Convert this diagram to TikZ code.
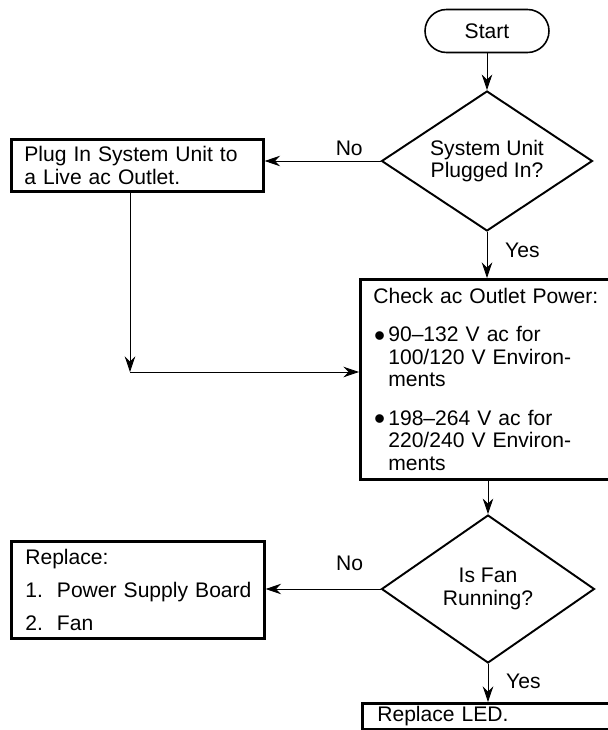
\documentclass[tikz,border=0pt]{standalone}
\usepackage{fontspec}
\setmainfont{Liberation Sans}
\usetikzlibrary{positioning,arrows.meta,shapes.geometric}
\newcommand{\fl}{\fontsize{12}{12.8}\selectfont}
\newcommand{\itm}{\makebox[3mm][l]{\hspace{0.4pt}\raisebox{-2.6pt}{\fontsize{18}{12}\selectfont\textbullet}}}
\newcommand{\ind}{\hspace*{3mm}}
\tikzset{
  box/.style ={draw, line width=1.5pt, align=left, anchor=north west, inner xsep=2.6mm, inner ysep=0pt, font=\fl},
  term/.style={draw, line width=.9pt, rounded corners=4.3mm, minimum width=24.8mm, minimum height=8.6mm, font=\fl},
  dec/.style ={draw, diamond, aspect=1.5, line width=1.1pt, inner sep=0pt, align=center, font=\fl},
  ln/.style  ={draw, line width=.5pt, -{Stealth[length=3.1mm,width=2.1mm]}},
  tag/.style ={font=\fl, inner sep=3pt},
}

\begin{document}
\begin{tikzpicture}[x=0.02cm,y=-0.02cm]
    \clip (0,0) rectangle (608,730);
    \node[term] (start) at (487,31) {Start};
    \node[dec,minimum width=42.2mm,minimum height=28mm] (plugd) at (487,161)
      {System Unit\\Plugged In?};
    \node[box,text width=45.2mm,minimum height=10.4mm] (plug) at (10,138)
      {Plug In System Unit to\\a Live ac Outlet.};
    \node[box,text width=55mm,minimum height=40mm] (check) at (359,278)
      {Check ac Outlet Power:\\[9pt]
       \itm 90--132 V ac for\\ \ind 100/120 V Environ-\\ \ind ments\\[9pt]
       \itm 198--264 V ac for\\ \ind 220/240 V Environ-\\ \ind ments};
    \node[dec,minimum width=42.6mm,minimum height=29.6mm] (fan) at (488,589)
      {Is Fan\\Running?};
    \node[box,text width=45mm,inner xsep=2.8mm,minimum height=19.4mm] (repl) at (10,540)
      {Replace:\\[6pt] \mbox{1.\ \ Power Supply Board}\\[6pt] 2.\ \ Fan};
    \node[box,text width=55mm,inner xsep=3mm,minimum height=5.2mm] (led) at (361,702)
      {Replace LED.};
    \coordinate (join) at (130,372);

    \draw[ln] (start) -- (plugd);
    \draw[ln] (plugd.west) -- node[tag,above,pos=.27] {No} (plugd.west -| plug.east);
    \draw[ln] (plugd.south) -- node[tag,right,pos=.4,xshift=2.5mm] {Yes} (plugd.south |- check.north);
    \draw[ln] (plug.south -| join) -- (join);
    \draw[ln] (join) -- (join -| check.west);
    \draw[ln] (fan.north |- check.south) -- (fan.north);
    \draw[ln] (fan.west) -- node[tag,above,pos=.27,yshift=2.5mm] {No} (fan.west -| repl.east);
    \draw[ln] (fan.south) -- node[tag,right,pos=.45,xshift=2.5mm] {Yes} (fan.south |- led.north);
  \end{tikzpicture}
\end{document}
